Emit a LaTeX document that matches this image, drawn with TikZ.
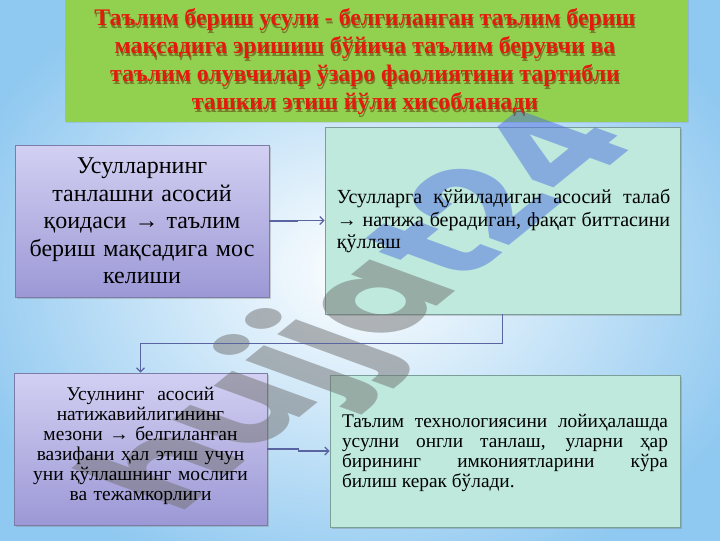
\documentclass[tikz,border=0pt]{standalone}
\usepackage{fontspec}
\setmainfont{Liberation Serif}
\newfontfamily\wmfont{Poppins}
\usetikzlibrary{shadows,arrows.meta,calc}
\definecolor{bgblue}{HTML}{8FC8F0}
\definecolor{titlegreen}{HTML}{92D050}
\definecolor{titlered}{HTML}{E41A0E}
\definecolor{titleshadow}{HTML}{5A1A00}
\definecolor{lavtop}{HTML}{D2D0F2}
\definecolor{lavbot}{HTML}{9C98D6}
\definecolor{lavline}{HTML}{7C7CA8}
\definecolor{mint}{HTML}{BEE9DC}
\definecolor{mintline}{HTML}{7A9E98}
\definecolor{connc}{HTML}{5A64A0}
\definecolor{wmgray}{HTML}{707070}
\definecolor{wmblue}{HTML}{5070E0}
\tikzset{
  boxshadow/.style={drop shadow={shadow xshift=1.5pt,shadow yshift=-1.8pt,opacity=0.35}},
  lavbox/.style={draw=lavline, line width=0.6pt, top color=lavtop, bottom color=lavbot,
    boxshadow, inner sep=0pt},
  mintbox/.style={draw=mintline, line width=0.6pt, fill=mint, boxshadow, inner sep=0pt},
  ctext/.style={align=center, inner sep=0pt, text=black},
  jtext/.style={align=justify, inner sep=0pt, text=black},
  conn/.style={draw=connc, line width=0.9pt, -{Straight Barb[length=3pt,width=6pt]}},
  titletext/.style={align=center, font=\bfseries\fontsize{17.8}{21}\selectfont},
}
\begin{document}
\begin{tikzpicture}[x=0.75pt,y=-0.75pt]
\useasboundingbox (0,0) rectangle (720,540);
\shade[inner color=white, outer color=bgblue] (-60,-60) rectangle (780,600);
% box shapes
\node[fill=titlegreen, minimum width=467.25pt, minimum height=93pt, inner sep=0pt,
  drop shadow={shadow xshift=1pt,shadow yshift=-1pt,opacity=0.2}] (T) at (376.5,60) {};
\node[lavbox, minimum width=190.5pt, minimum height=114pt] (A) at (142,221) {};
\node[mintbox, minimum width=266.25pt, minimum height=140.25pt] (B) at (502.5,220.5) {};
\node[lavbox, minimum width=189.75pt, minimum height=114pt] (C) at (140.5,449) {};
\node[mintbox, minimum width=262.5pt, minimum height=114pt] (D) at (505,451) {};
% watermark (rotated and back-slanted)
\begin{scope}[shift={(178,516)}, cm={0.777,0.629,-1.095,0.400,(0,0)}, transform shape]
\node[anchor=base west, inner sep=0pt, text opacity=0.5,
  font=\wmfont\bfseries\fontsize{105}{105}\selectfont] (wm) at (0,0)
  {\textcolor{wmgray}{hujja}\textcolor{wmblue}{t24}};
\end{scope}
% connectors
\coordinate (m1) at ($(A.east)!0.5!(B.west)$);
\coordinate (m2) at ($(C.east)!0.5!(D.west)$);
\draw[conn] (A.east) -| (m1) |- (B.west);
\draw[conn] (B.south) -- ++(0,29) -| (C.north);
\draw[conn] (C.east) -| (m2) |- (D.west);
% texts
\node[titletext, text=titleshadow, text opacity=0.45] (Ts) at (366,64.5) {Таълим бериш усули - белгиланган таълим бериш\\ мақсадига эришиш бўйича таълим берувчи ва\\ таълим олувчилар ўзаро фаолиятини тартибли\\ ташкил этиш йўли хисобланади};
\node[titletext, text=titlered] (Tt) at (365,62) {Таълим бериш усули - белгиланган таълим бериш\\ мақсадига эришиш бўйича таълим берувчи ва\\ таълим олувчилар ўзаро фаолиятини тартибли\\ ташкил этиш йўли хисобланади};
\node[ctext, text width=186pt, font=\fontsize{18}{20.6}\selectfont] (At) at (142,221)
  {Усулларнинг\\ танлашни асосий\\ қоидаси → таълим\\ бериш мақсадига мос\\ келиши};
\node[jtext, text width=250pt, font=\fontsize{15}{16.9}\selectfont] (Bt) at (503.5,221)
  {Усулларга қўйиладиган асосий талаб\linebreak → натижа берадиган, фақат биттасини\linebreak қўллаш};
\node[ctext, text width=186pt, font=\fontsize{14.6}{15}\selectfont] (Ct) at (140.5,446)
  {Усулнинг\ \ асосий\\ натижавийлигининг\\ мезони → белгиланган\\ вазифани ҳал этиш учун\\ уни қўллашнинг мослиги\\ ва тежамкорлиги};
\node[jtext, text width=244.5pt, font=\fontsize{14.5}{14.8}\selectfont] (Dt) at (505,453)
  {Таълим технологиясини лойиҳалашда\linebreak усулни онгли танлаш, уларни ҳар\linebreak бирининг имкониятларини кўра\linebreak билиш керак бўлади.};
\end{tikzpicture}
\end{document}
